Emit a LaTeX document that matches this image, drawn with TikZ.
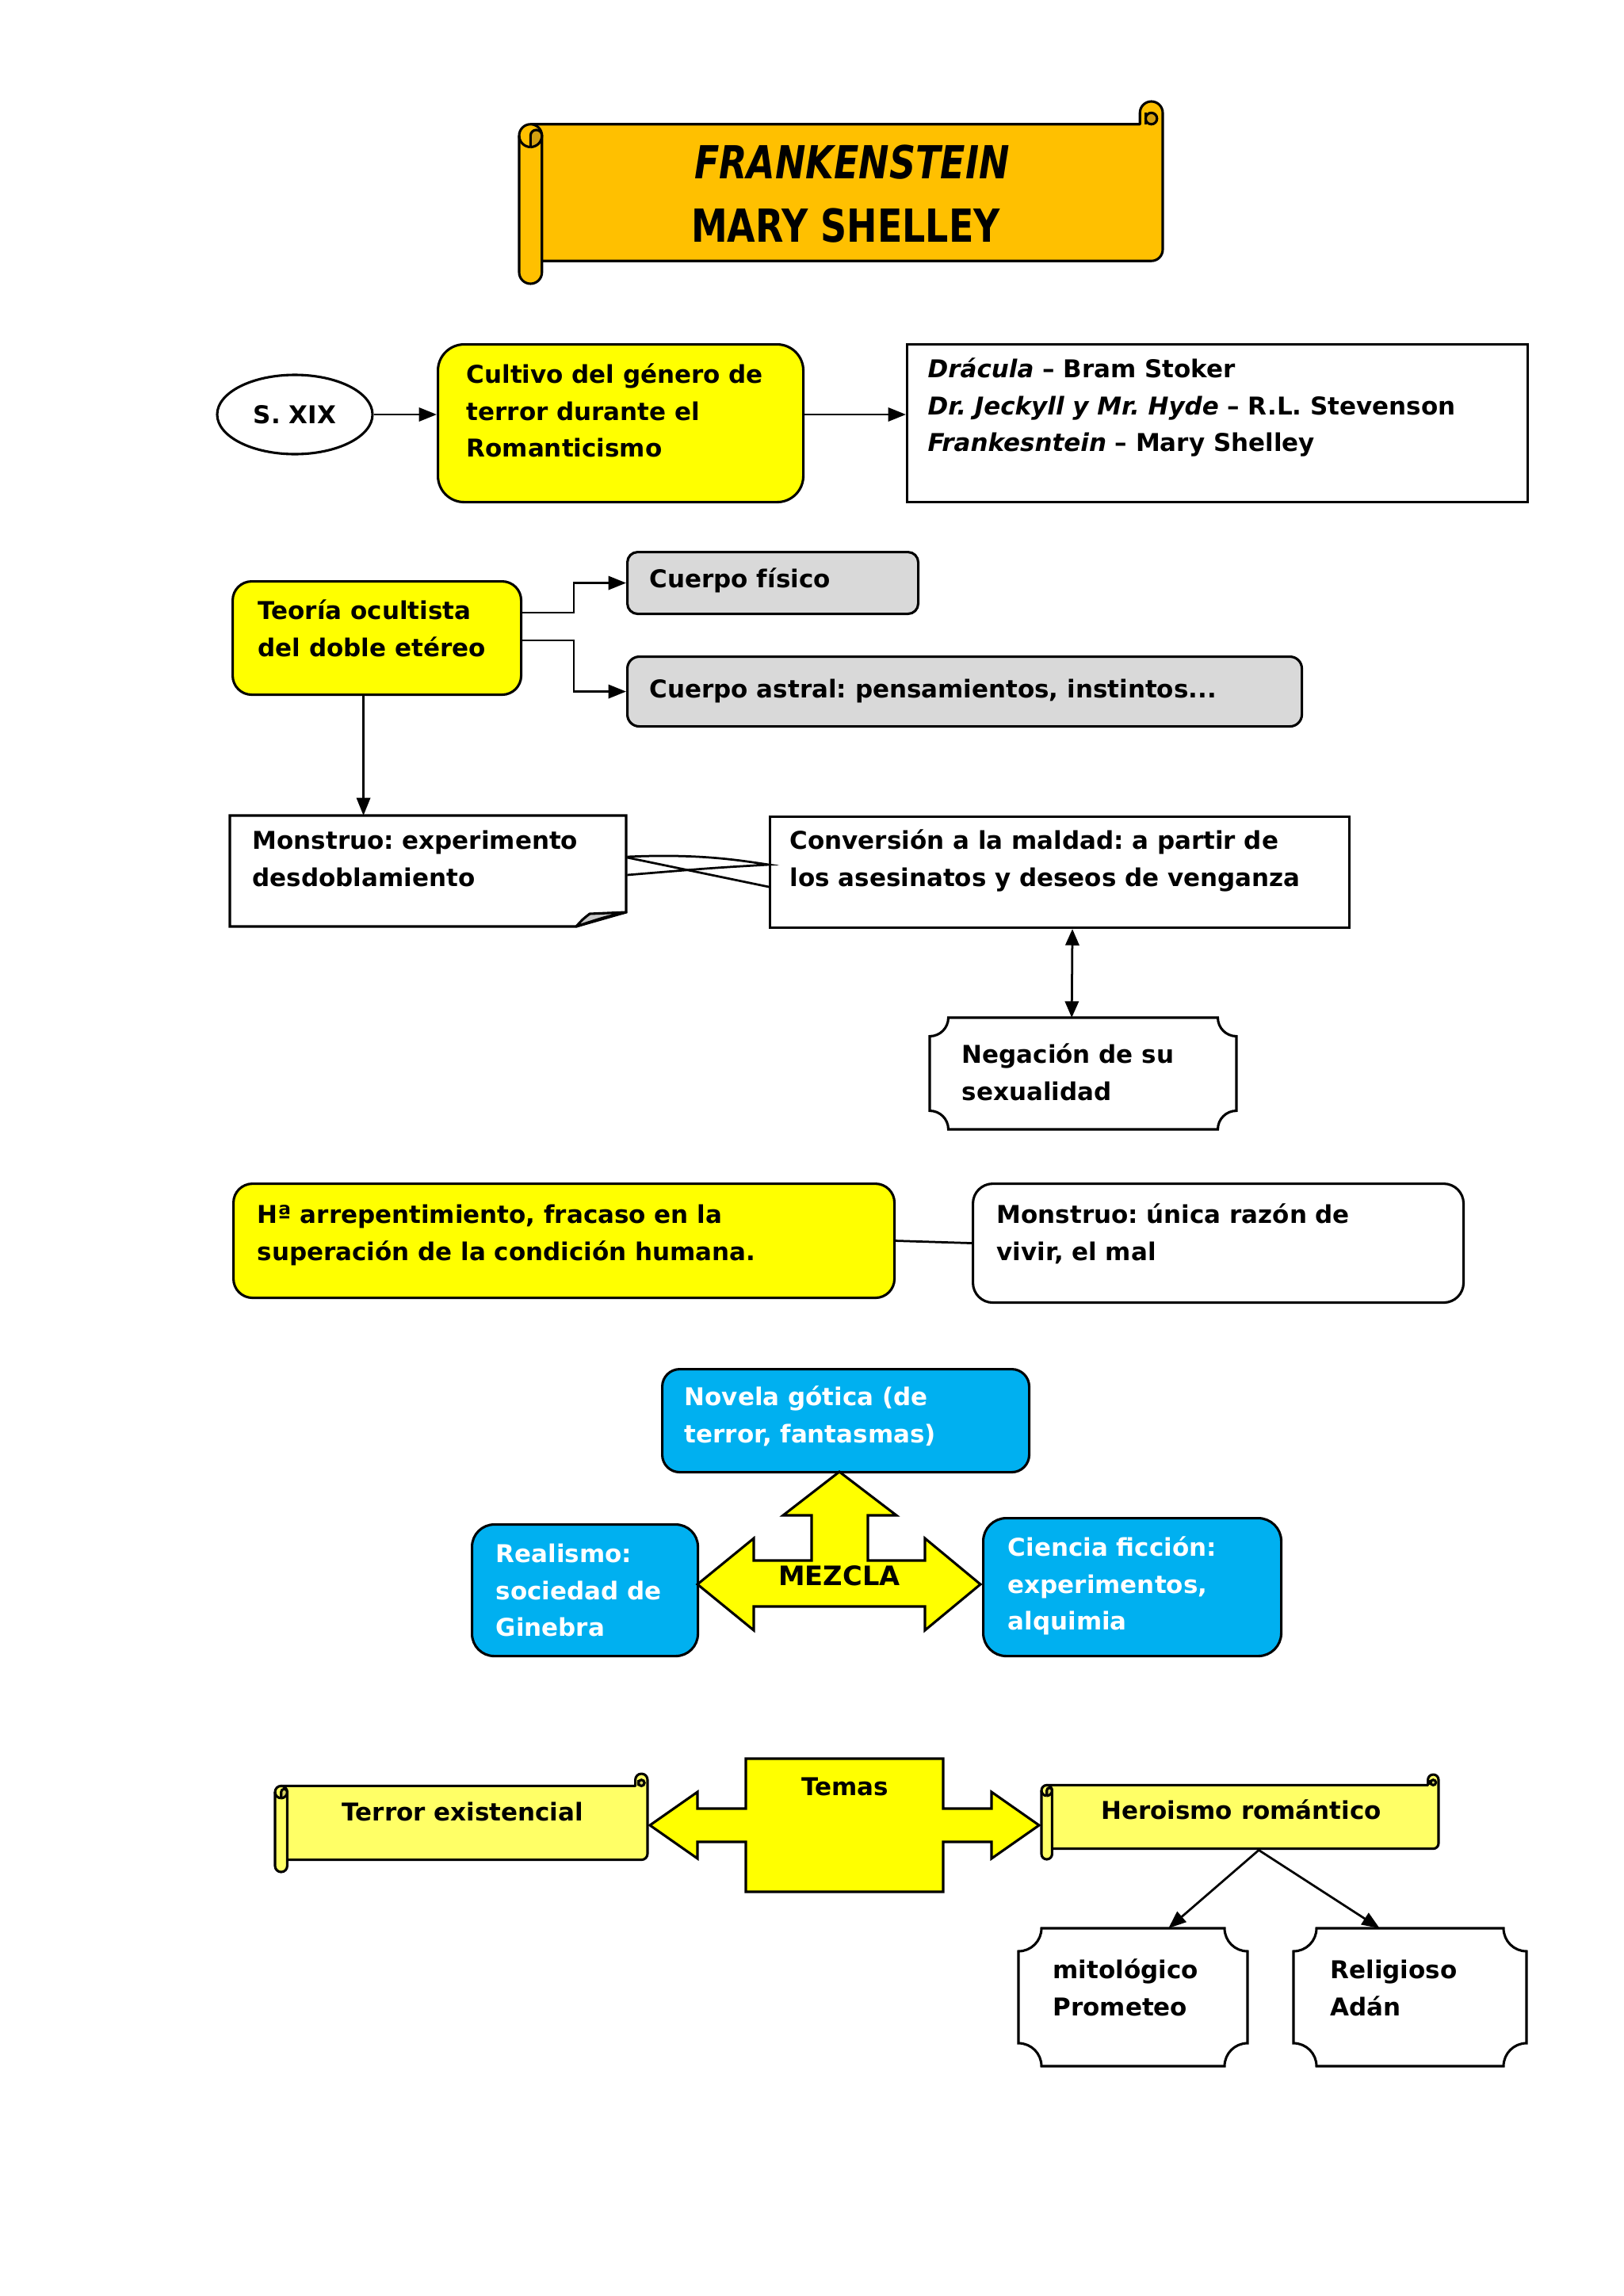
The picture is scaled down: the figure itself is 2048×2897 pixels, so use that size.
\documentclass[tikz,border=0pt]{standalone}
\usepackage{fontspec}
\usepackage{graphicx}
\setmainfont{DejaVu Sans}
\frenchspacing
\usetikzlibrary{arrows.meta,calc,shapes.geometric}
\definecolor{gold}{HTML}{FFC000}
\definecolor{golddark}{HTML}{D4A010}
\definecolor{yel}{HTML}{FFFF00}
\definecolor{lyel}{HTML}{FFFF66}
\definecolor{lyeldark}{HTML}{D8D460}
\definecolor{gry}{HTML}{D9D9D9}
\definecolor{flap}{HTML}{C8C8C8}
\definecolor{blu}{HTML}{00B0F0}
\newcommand\bodyf{\fontsize{9}{13.4}\selectfont\bfseries\frenchspacing}
\newcommand\titlef{\fontsize{16.7}{20}\selectfont\bfseries}
\newcommand\pxx[1]{#1*0.29066pt}
\newcommand\myscroll[7]{%
 \pgfmathsetmacro\zzL{#1}\pgfmathsetmacro\zzT{#2}\pgfmathsetmacro\zzR{#3}\pgfmathsetmacro\zzB{#4}%
 \pgfmathsetmacro\zzc{#5}\pgfmathsetmacro\zzh{#5/2}\pgfmathsetmacro\zzq{#5/4}%
 \filldraw[fill=#6,line width=0.9pt,line join=round] (\zzL+\zzh,\zzT+\zzc) -- (\zzR-\zzc,\zzT+\zzc) -- (\zzR-\zzc,\zzT+\zzh) arc[start angle=180,end angle=360,radius=\zzh] -- (\zzR,\zzB-\zzc-\zzh) arc[start angle=0,end angle=90,radius=\zzh] -- (\zzL+\zzh,\zzB-\zzc) -- cycle;
 \filldraw[fill=#7,line width=0.9pt] (\zzR-\zzh,\zzT+\zzc-\zzq) circle[radius=\zzq];
 \draw[line width=0.9pt] (\zzR-\zzc+\zzq,\zzT+\zzh) -- (\zzR-\zzc+\zzq,\zzT+\zzc);
 \filldraw[fill=#6,line width=0.9pt] (\zzL,\zzT+\zzc+\zzh) arc[start angle=180,end angle=360,radius=\zzh] -- (\zzL+\zzc,\zzB-\zzh) arc[start angle=0,end angle=180,radius=\zzh] -- cycle;
 \filldraw[fill=#7,line width=0.9pt] (\zzL+\zzh,\zzT+2*\zzc) -- (\zzL+\zzh,\zzT+\zzc+\zzh) arc[start angle=180,end angle=360,radius=\zzq] arc[start angle=0,end angle=90,radius=\zzh] -- cycle;
 \draw[line width=0.9pt] (\zzL,\zzT+\zzc+\zzh) arc[start angle=180,end angle=90,radius=\zzh];
}
\newcommand\plaque[6]{%
 \filldraw[fill=#6,line width=0.9pt] (#1+#5,#2) -- (#3-#5,#2) arc[start angle=180,end angle=90,radius=#5] -- (#3,#4-#5) arc[start angle=270,end angle=180,radius=#5] -- (#1+#5,#4) arc[start angle=0,end angle=-90,radius=#5] -- (#1,#2+#5) arc[start angle=90,end angle=0,radius=#5] -- cycle;
}
\tikzset{
 bx/.style={draw,line width=0.9pt,inner sep=0pt,anchor=north west},
 ghost/.style={inner sep=0pt,anchor=north west},
 txt/.style={anchor=north west,inner sep=0pt,align=left,font=\bodyf},
 ctxt/.style={anchor=base,inner sep=0pt,font=\bodyf},
 arr/.style={line width=0.8pt,-{Triangle[length=6.5pt,width=5pt]}},
 darr/.style={line width=0.8pt,{Triangle[length=6pt,width=5pt]}-{Triangle[length=6pt,width=5pt]}},
 shp/.style={line width=0.9pt,line join=miter}
}
\begin{document}
\begin{tikzpicture}[x=0.29066pt,y=-0.29066pt]
\fill[white] (0,0) rectangle (2048,2897);
\useasboundingbox (0,0) rectangle (2048,2897);

% title scroll
\myscroll{655}{128}{1467}{358}{28.75}{gold}{golddark}
\node[anchor=base,inner sep=0pt,font=\titlef] (t1) at (1075,225) {\scalebox{0.8}[1]{\itshape FRANKENSTEIN}};
\node[anchor=base,inner sep=0pt,font=\titlef] (t2) at (1067,305) {\scalebox{0.8}[1]{MARY SHELLEY}};

% row 1
\node[draw,ellipse,line width=0.9pt,minimum width=\pxx{196},minimum height=\pxx{100},inner sep=0pt,font=\bodyf] (sxix) at (372,523) {S. XIX};
\node[bx,fill=yel,rounded corners=\pxx{33},minimum width=\pxx{461},minimum height=\pxx{199}] (cult) at (551,433) {};
\node[bx,fill=white,minimum width=\pxx{783},minimum height=\pxx{199}] (lista) at (1143,433) {};
\node[txt] (cult-t) at (588,451) {\strut Cultivo del género de\\terror durante el\\Romanticismo};
\node[txt] (lista-t) at (1170,444) {\strut\textit{Drácula} – Bram Stoker\\\textit{Dr. Jeckyll y Mr. Hyde} – R.L. Stevenson\\\textit{Frankesntein} – Mary Shelley};
\draw[arr] (sxix.east) -- (sxix.east -| cult.west);
\draw[arr] (cult.east |- sxix.east) -- (lista.west |- sxix.east);

% row 2
\node[bx,fill=yel,rounded corners=\pxx{24},minimum width=\pxx{364},minimum height=\pxx{143}] (teo) at (292,732) {};
\node[bx,fill=gry,rounded corners=\pxx{13},minimum width=\pxx{367},minimum height=\pxx{78}] (fis) at (790,695) {};
\node[bx,fill=gry,rounded corners=\pxx{15},minimum width=\pxx{851},minimum height=\pxx{88}] (ast) at (790,827) {};
\node[txt] (teo-t) at (325,749) {\strut Teoría ocultista\\del doble etéreo};
\node[txt] (fis-t) at (819,709) {\strut Cuerpo físico};
\node[txt] (ast-t) at (819,848) {\strut Cuerpo astral: pensamientos, instintos...};
\draw[arr] ($(teo.north east)+(0,41)$) -- ++(65,0) |- (fis.west);
\draw[arr] ($(teo.north east)+(0,76)$) -- ++(65,0) |- (ast.west);

% row 3
\node[ghost,minimum width=\pxx{500},minimum height=\pxx{140}] (mon) at (290,1029) {};
\filldraw[fill=white,line width=0.9pt] (290,1029) -- (790,1029) -- (790,1151) -- (727,1169) -- (290,1169) -- cycle;
\filldraw[fill=flap,line width=0.9pt,line join=round] (727,1169) .. controls (735,1160) .. (744,1153) -- (790,1151) .. controls (760,1158) .. (727,1169) -- cycle;
\node[bx,fill=white,minimum width=\pxx{731},minimum height=\pxx{140}] (conv) at (970,1029) {};
\node[txt] (mon-t) at (318,1039) {\strut Monstruo: experimento\\desdoblamiento};
\node[txt] (conv-t) at (996,1039) {\strut Conversión a la maldad: a partir de\\los asesinatos y deseos de venganza};
\draw[arr] ($(teo.south)+(-17,0)$) coordinate (ta) -- (ta |- mon.north);
\draw[line width=0.8pt] ($(mon.north east)+(0,52)$) .. controls ($(mon.north east)+(90,48)$) and ($(conv.north west)+(-40,56)$) .. ($(conv.north west)+(0,62)$) .. controls ($(conv.north west)+(-70,66)$) .. ($(mon.north east)+(0,75)$);
\draw[line width=0.8pt] ($(mon.north east)+(0,53)$) -- ($(conv.north west)+(0,90)$);

\plaque{1173}{1284}{1560}{1425}{23.5}{white}
\node[ghost,minimum width=\pxx{387},minimum height=\pxx{141}] (neg) at (1173,1284) {};
\node[txt] (neg-t) at (1213,1309) {\strut Negación de su\\sexualidad};
\draw[darr] ($(conv.south)+(16,0)$) -- ($(neg.north)+(-15,0)$);

% row 4
\node[bx,fill=yel,rounded corners=\pxx{24},minimum width=\pxx{834},minimum height=\pxx{144}] (hist) at (293,1492) {};
\node[bx,fill=white,rounded corners=\pxx{25},minimum width=\pxx{619},minimum height=\pxx{150}] (unica) at (1226,1492) {};
\node[txt] (hist-t) at (324,1511) {\strut Hª arrepentimiento, fracaso en la\\superación de la condición humana.};
\node[txt] (unica-t) at (1257,1511) {\strut Monstruo: única razón de\\vivir, el mal};
\draw[line width=0.8pt] (hist.east) -- (unica.west);

% row 5
\node[bx,fill=blu,rounded corners=\pxx{22},minimum width=\pxx{463},minimum height=\pxx{130}] (nov) at (834,1726) {};
\node[bx,fill=blu,rounded corners=\pxx{28},minimum width=\pxx{285},minimum height=\pxx{166}] (real) at (594,1922) {};
\node[bx,fill=blu,rounded corners=\pxx{29},minimum width=\pxx{376},minimum height=\pxx{174}] (cien) at (1239,1914) {};
\node[txt,text=white] (nov-t) at (863,1741) {\strut Novela gótica (de\\terror, fantasmas)};
\node[txt,text=white] (real-t) at (625,1939) {\strut Realismo:\\sociedad de\\Ginebra};
\node[txt,text=white] (cien-t) at (1271,1931) {\strut Ciencia ficción:\\experimentos,\\alquimia};
\filldraw[fill=yel,shp] (880,1999) -- (951,1941) -- (951,1969) -- (1024,1969) -- (1024,1912) -- (988,1912) -- (1059,1857) -- (1131,1912) -- (1095,1912) -- (1095,1969) -- (1167,1969) -- (1167,1941) -- (1237,1999) -- (1167,2057) -- (1167,2027) -- (951,2027) -- (951,2057) -- cycle;
\node[ctxt,font=\fontsize{9.8}{12}\selectfont\bfseries] (mez) at (1059,2000) {MEZCLA};

% row 6
\myscroll{347}{2238}{817}{2362}{15.4}{lyel}{lyeldark}
\myscroll{1314}{2239}{1815}{2346}{13.4}{lyel}{lyeldark}
\node[ghost,minimum width=\pxx{470},minimum height=\pxx{94}] (terror) at (347,2253) {};
\node[ghost,minimum width=\pxx{501},minimum height=\pxx{80}] (hero) at (1314,2253) {};
\node[ctxt] (terror-t) at (584,2297) {Terror existencial};
\node[ctxt] (hero-t) at (1566,2295) {Heroismo romántico};
\filldraw[fill=yel,shp] (941,2219) -- (1190,2219) -- (1190,2282) -- (1251,2282) -- (1251,2261) -- (1311,2303) -- (1251,2345) -- (1251,2324) -- (1190,2324) -- (1190,2387) -- (941,2387) -- (941,2324) -- (880,2324) -- (880,2345) -- (820,2303) -- (880,2261) -- (880,2282) -- (941,2282) -- cycle;
\node[ctxt] (temas) at (1066,2265) {Temas};

\plaque{1285}{2433}{1574}{2607}{29}{white}
\plaque{1632}{2433}{1926}{2607}{29}{white}
\node[ghost,minimum width=\pxx{289},minimum height=\pxx{174}] (mito) at (1285,2433) {};
\node[ghost,minimum width=\pxx{294},minimum height=\pxx{174}] (reli) at (1632,2433) {};
\node[txt] (mito-t) at (1328,2464) {\strut mitológico\\Prometeo};
\node[txt] (reli-t) at (1678,2464) {\strut Religioso\\Adán};
\draw[arr] ($(hero.south)+(23,0)$) -- ($(mito.north)+(44,0)$);
\draw[arr] ($(hero.south)+(23,0)$) -- ($(reli.north)+(-39,0)$);
\end{tikzpicture}
\end{document}
